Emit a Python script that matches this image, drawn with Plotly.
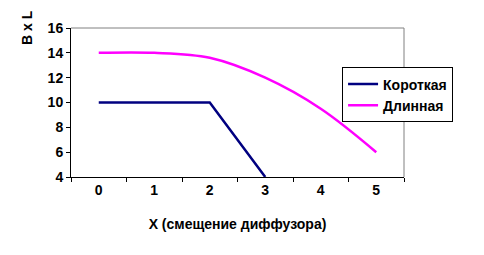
import plotly.graph_objects as go

categories = [0, 1, 2, 3, 4, 5]
short_x = [0, 1, 2, 3]
short_vals = [10, 10, 10, 4]
long_vals = [14, 14, 13.6, 12, 9.5, 6]
y_ticks = [4, 6, 8, 10, 12, 14, 16]

FONT = "Arial, Liberation Sans, sans-serif"

fig = go.Figure()
fig.add_trace(go.Scatter(x=short_x, y=short_vals, mode="lines", name="Короткая",
                         line=dict(color="#000080", width=2.5)))
fig.add_trace(go.Scatter(x=categories, y=long_vals, mode="lines", name="Длинная",
                         line=dict(color="#FF00FF", width=2.5, shape="spline", smoothing=1)))

fig.update_layout(
    width=484, height=255,
    margin=dict(l=71, r=80, t=28, b=78),
    paper_bgcolor="white", plot_bgcolor="white",
    font=dict(family=FONT, size=14, color="black"),
    showlegend=True,
    legend=dict(x=0.814, y=0.735, xanchor="left", yanchor="top",
                bordercolor="black", borderwidth=1, bgcolor="white",
                font=dict(family=FONT, size=14, color="black", weight="bold"),
                tracegroupgap=0, itemwidth=30),
    xaxis=dict(range=[-0.5, 5.5], tickmode="array", tickvals=categories,
               ticktext=[str(c) for c in categories], ticks="",
               showgrid=False, zeroline=False,
               showline=True, linecolor="black", linewidth=1, mirror=False,
               tickfont=dict(family=FONT, size=14, weight="bold"),
               minor=dict(tickmode="array", tickvals=[-0.5, 0.5, 1.5, 2.5, 3.5, 4.5, 5.5],
                          ticks="outside", ticklen=4, tickcolor="black", showgrid=False),
               title=dict(text="X (смещение диффузора)", font=dict(family=FONT, size=14, weight="bold"),
                          standoff=22)),
    yaxis=dict(range=[4, 16], tickmode="array", tickvals=y_ticks, ticks="outside",
               ticklen=4, tickcolor="black", showgrid=False, zeroline=False,
               showline=True, linecolor="black", linewidth=1,
               tickfont=dict(family=FONT, size=14, weight="bold")),
    shapes=[
        dict(type="line", xref="paper", yref="paper", x0=0, x1=1, y0=1, y1=1,
             line=dict(color="#808080", width=1)),
        dict(type="line", xref="paper", yref="paper", x0=1, x1=1, y0=0, y1=1,
             line=dict(color="#808080", width=1)),
    ],
    annotations=[
        dict(text="B x L", textangle=-90, xref="paper", yref="paper",
             x=-0.132, y=1.0, xanchor="center", yanchor="middle",
             showarrow=False, font=dict(family=FONT, size=14, weight="bold")),
    ],
)

fig.write_html("out.html")
